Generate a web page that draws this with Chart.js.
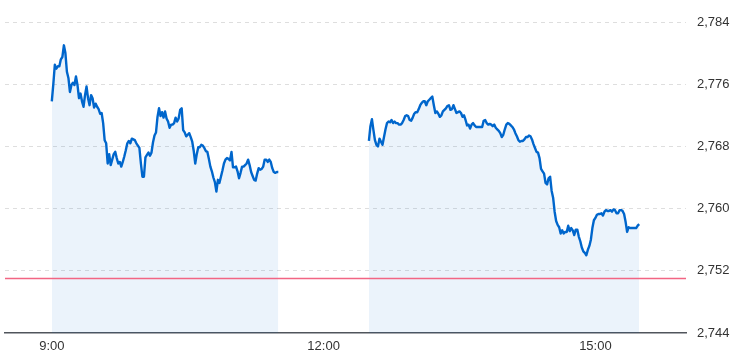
<!DOCTYPE html>
<html lang="en">

<head>
    <meta charset="UTF-8">
    <meta name="viewport" content="width=device-width, initial-scale=1.0">
    <script src="https://cdn.jsdelivr.net/npm/chart.js"></script>
    <title>Intraday Index Chart</title>
    <style>
        body { margin: 0; background: #fff; }
        #wrap { width: 737px; height: 360px; position: relative; }
    </style>
</head>

<body>
    <div id="wrap">
        <canvas id="priceChart"></canvas>
    </div>

    <script>
        // session start times (minutes since midnight) and per-minute prices
        const morningStart = 9 * 60;        // 9:00
        const afternoonStart = 12 * 60 + 30; // 12:30

        const morningValues = [
            2773.8, 2776.0, 2778.5, 2778.0, 2778.3, 2778.3, 2779.2, 2779.5, 2781.0, 2780.0,
            2777.6, 2776.8, 2775.0, 2775.9, 2776.2, 2775.9, 2777.0, 2775.9, 2774.2, 2774.8,
            2773.8, 2773.1, 2774.6, 2775.7, 2774.2, 2773.3, 2774.6, 2774.2, 2773.0, 2773.5,
            2773.1, 2772.8, 2772.2, 2772.3, 2771.0, 2768.8, 2768.4, 2765.8, 2767.0, 2765.6,
            2766.3, 2767.0, 2767.3, 2766.5, 2765.8, 2766.0, 2765.4, 2766.0, 2766.7, 2767.5,
            2768.4, 2768.7, 2768.4, 2769.0, 2768.9, 2768.8, 2768.4, 2768.1, 2767.8, 2765.8,
            2764.1, 2764.1, 2766.6, 2766.9, 2767.2, 2766.8, 2767.2, 2768.5, 2769.4, 2769.8,
            2771.8, 2772.9, 2771.9, 2772.4, 2771.7, 2772.5, 2771.6, 2771.2, 2770.4, 2770.8,
            2770.8, 2771.0, 2771.7, 2771.2, 2771.6, 2772.7, 2772.9, 2770.1, 2769.8, 2769.3,
            2769.5, 2769.7, 2769.2, 2768.6, 2767.4, 2765.8, 2767.0, 2767.9, 2767.9, 2768.2,
            2768.1, 2767.8, 2767.4, 2767.3, 2766.4, 2765.4, 2764.8, 2764.0, 2763.4, 2762.2,
            2763.7, 2763.3, 2764.1, 2764.9, 2765.8, 2766.3, 2766.5, 2766.4, 2766.2, 2767.3,
            2765.3, 2765.3, 2765.4, 2764.8, 2763.9, 2764.6, 2765.4, 2765.4, 2765.6, 2765.8,
            2766.3, 2765.6, 2764.7, 2764.2, 2763.7, 2763.6, 2764.5, 2765.2, 2765.0, 2765.1,
            2765.4, 2766.3, 2766.3, 2766.0, 2766.3, 2766.0, 2765.2, 2764.7, 2764.6, 2764.7,
            2764.7
        ];

        const afternoonValues = [
            2768.7, 2770.6, 2771.5, 2770.1, 2768.8, 2768.2, 2768.0, 2769.0, 2768.6, 2768.2,
            2769.2, 2770.2, 2771.0, 2771.2, 2771.1, 2771.4, 2771.0, 2771.2, 2771.0, 2771.0,
            2770.8, 2770.8, 2771.0, 2771.4, 2771.9, 2772.0, 2771.9, 2771.4, 2771.3, 2771.7,
            2772.2, 2772.4, 2772.4, 2772.8, 2773.3, 2773.6, 2773.8, 2773.8, 2773.3, 2773.8,
            2774.0, 2774.2, 2774.4, 2773.3, 2772.3, 2772.5, 2772.2, 2771.8, 2772.0, 2772.5,
            2772.7, 2772.9, 2773.2, 2773.3, 2772.7, 2772.8, 2773.3, 2772.8, 2772.3, 2772.4,
            2772.5, 2772.3, 2771.8, 2772.0, 2771.4, 2770.7, 2770.8, 2770.3, 2770.8, 2771.0,
            2770.7, 2770.5, 2770.5, 2770.5, 2770.5, 2770.5, 2771.3, 2771.4, 2771.0, 2770.8,
            2770.9, 2770.8, 2770.6, 2770.8, 2770.4, 2770.2, 2770.0, 2769.7, 2769.2, 2769.5,
            2770.2, 2770.8, 2771.0, 2770.9, 2770.7, 2770.5, 2770.2, 2769.7, 2769.3, 2768.8,
            2768.6, 2768.7, 2768.7, 2768.9, 2769.2, 2769.2, 2769.4, 2769.3, 2768.9, 2768.3,
            2767.8, 2767.3, 2767.2, 2766.5, 2765.1, 2764.8, 2764.5, 2763.3, 2763.1, 2763.9,
            2764.1, 2762.3, 2761.4, 2759.6, 2758.4, 2757.9, 2757.6, 2756.8, 2757.2, 2756.8,
            2757.0, 2757.0, 2757.8, 2757.1, 2757.5, 2757.2, 2756.6, 2757.3, 2757.3, 2756.4,
            2755.8, 2755.0, 2754.5, 2754.3, 2754.0, 2754.7, 2755.2, 2756.0, 2757.5, 2758.5,
            2758.8, 2759.2, 2759.3, 2759.3, 2759.4, 2759.1, 2759.6, 2759.8, 2759.7, 2759.7,
            2759.8, 2759.6, 2759.9, 2759.8, 2759.4, 2759.4, 2759.8, 2759.8, 2759.7, 2759.3,
            2758.3, 2757.0, 2757.6, 2757.5, 2757.5, 2757.5, 2757.5, 2757.5, 2757.8, 2758.0
        ];

        const prevClose = 2751.0;
        const xTickTimes = [9 * 60, 12 * 60, 15 * 60];
        const yTicks = [2744, 2752, 2760, 2768, 2776, 2784];

        const axisMin = 8 * 60 + 29;
        const axisMax = 16 * 60;

        function toPoints(start, values) {
            return values.map((v, i) => ({ x: start + i, y: v }));
        }

        function fmtTime(m) {
            const h = Math.floor(m / 60);
            const mm = m % 60;
            return h + ':' + (mm < 10 ? '0' : '') + mm;
        }

        const lineColor = '#0066cc';
        const fillColor = 'rgba(0, 102, 204, 0.08)';
        const fontFamily = "Arial, 'Liberation Sans', sans-serif";

        const ctx = document.getElementById('priceChart').getContext('2d');
        new Chart(ctx, {
            type: 'line',
            data: {
                datasets: [
                    {
                        data: [{ x: axisMin, y: prevClose }, { x: axisMax, y: prevClose }],
                        borderColor: '#f26583',
                        borderWidth: 1.5,
                        pointRadius: 0,
                        fill: false,
                        order: 0
                    },
                    {
                        data: toPoints(morningStart, morningValues),
                        borderColor: lineColor,
                        backgroundColor: fillColor,
                        borderWidth: 2.4,
                        pointRadius: 0,
                        fill: 'start',
                        tension: 0,
                        borderJoinStyle: 'round',
                        order: 1
                    },
                    {
                        data: toPoints(afternoonStart, afternoonValues),
                        borderColor: lineColor,
                        backgroundColor: fillColor,
                        borderWidth: 2.4,
                        pointRadius: 0,
                        fill: 'start',
                        tension: 0,
                        borderJoinStyle: 'round',
                        order: 1
                    }
                ]
            },
            options: {
                responsive: true,
                maintainAspectRatio: false,
                animation: false,
                layout: { padding: { top: 22, left: 5, right: 0, bottom: 0 } },
                plugins: {
                    legend: { display: false },
                    tooltip: { enabled: false }
                },
                scales: {
                    x: {
                        type: 'linear',
                        min: axisMin,
                        max: axisMax,
                        afterBuildTicks: (scale) => {
                            scale.ticks = xTickTimes.map(v => ({ value: v }));
                        },
                        afterFit: (scale) => { scale.height = 27; },
                        grid: { display: false, drawTicks: false },
                        border: { display: true, color: '#50555c', width: 1.5 },
                        ticks: {
                            color: '#333',
                            font: { family: fontFamily, size: 13 },
                            padding: 6,
                            maxRotation: 0,
                            autoSkip: false,
                            callback: (v) => fmtTime(v)
                        }
                    },
                    y: {
                        position: 'right',
                        min: 2744,
                        max: 2784,
                        afterBuildTicks: (scale) => {
                            scale.ticks = yTicks.map(v => ({ value: v }));
                        },
                        afterFit: (scale) => { scale.width = 51; },
                        grid: {
                            drawTicks: false,
                            color: (c) => c.tick && c.tick.value === 2744 ? 'rgba(0,0,0,0)' : '#dedede'
                        },
                        border: { display: false, dash: [4, 4] },
                        ticks: {
                            color: '#333',
                            font: { family: fontFamily, size: 13 },
                            padding: 11,
                            callback: (v) => v.toLocaleString('en-US')
                        }
                    }
                }
            }
        });
    </script>
</body>

</html>
